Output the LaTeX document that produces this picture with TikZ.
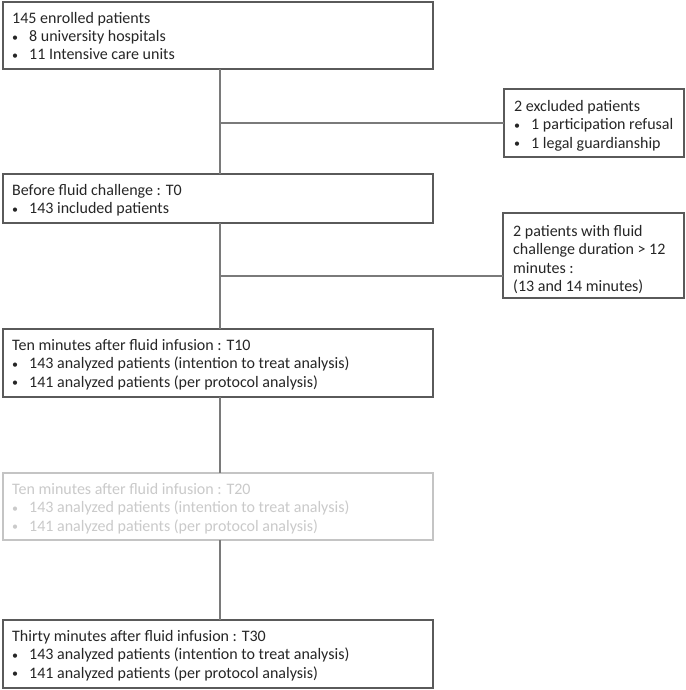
\documentclass[tikz,border=0pt]{standalone}
\usepackage{fontspec}
\setmainfont{Carlito}
\definecolor{boxline}{HTML}{5A5A5A}
\definecolor{connline}{HTML}{7A7A7A}
\definecolor{fadeline}{HTML}{C4C4C4}
\definecolor{fadetext}{HTML}{CACACA}
\definecolor{maintext}{HTML}{262626}
\newcommand{\bul}{\makebox[17pt][l]{\raisebox{0.5pt}{\fontsize{12}{12}\selectfont\textbullet}}}
\newcommand{\topstrut}{\rule{0pt}{12pt}}
\begin{document}
\begin{tikzpicture}[x=1pt,y=-1pt,
  box/.style={draw=boxline, line width=1.4pt, fill=white, inner sep=0pt, outer sep=0pt, anchor=north west},
  fadebox/.style={box, draw=fadeline},
  txt/.style={anchor=north west, align=left, inner sep=0pt, text=maintext,
    font=\fontsize{16}{18.4}\selectfont},
  fadetxt/.style={txt, text=fadetext},
  conn/.style={draw=connline, line width=1.4pt}]
\useasboundingbox (0,0) rectangle (685,690);
% boxes
\node[box, minimum width=430pt, minimum height=67pt] (b1) at (3,2) {};
\node[box, minimum width=180pt, minimum height=68pt] (ex) at (504,89) {};
\node[box, minimum width=430pt, minimum height=49pt] (t0) at (3,174) {};
\node[box, minimum width=181pt, minimum height=85pt] (fl) at (503,213) {};
\node[box, minimum width=430pt, minimum height=68pt] (t10) at (3,329) {};
\node[fadebox, minimum width=430pt, minimum height=67pt] (t20) at (3,473) {};
\node[box, minimum width=430pt, minimum height=68pt] (t30) at (3,620) {};
% connectors
\coordinate (spine) at (220,0);
\coordinate (j1) at (220,123);
\coordinate (j2) at (220,276);
\draw[conn] (b1.south -| spine) -- (t0.north -| spine);
\draw[conn] (j1) -- (ex.west |- j1);
\draw[conn] (t0.south -| spine) -- (t10.north -| spine);
\draw[conn] (j2) -- (fl.west |- j2);
\draw[conn] (t10.south -| spine) -- (t20.north -| spine);
\draw[conn] (t20.south -| spine) -- (t30.north -| spine);
% texts
\node[txt] (b1t) at ([xshift=9pt,yshift=-9pt]b1.north west)
  {\topstrut 145 enrolled patients\\ \bul 8 university hospitals\\ \bul 11 Intensive care units};
\node[txt] (ext) at ([xshift=10pt,yshift=-10pt]ex.north west)
  {\topstrut 2 excluded patients\\ \bul 1 participation refusal\\ \bul 1 legal guardianship};
\node[txt] (t0t) at ([xshift=9pt,yshift=-9pt]t0.north west)
  {\topstrut Before fluid challenge : T0\\ \bul 143 included patients};
\node[txt] (flt) at ([xshift=10pt,yshift=-11pt]fl.north west)
  {\topstrut 2 patients with fluid\\ challenge duration > 12\\ minutes :\\ (13 and 14 minutes)};
\node[txt] (t10t) at ([xshift=9pt,yshift=-9pt]t10.north west)
  {\topstrut Ten minutes after fluid infusion : T10\\ \bul 143 analyzed patients (intention to treat analysis)\\ \bul 141 analyzed patients (per protocol analysis)};
\node[fadetxt] (t20t) at ([xshift=9pt,yshift=-9pt]t20.north west)
  {\topstrut Ten minutes after fluid infusion : T20\\ \bul 143 analyzed patients (intention to treat analysis)\\ \bul 141 analyzed patients (per protocol analysis)};
\node[txt] (t30t) at ([xshift=9pt,yshift=-9pt]t30.north west)
  {\topstrut Thirty minutes after fluid infusion : T30\\ \bul 143 analyzed patients (intention to treat analysis)\\ \bul 141 analyzed patients (per protocol analysis)};
\end{tikzpicture}
\end{document}
